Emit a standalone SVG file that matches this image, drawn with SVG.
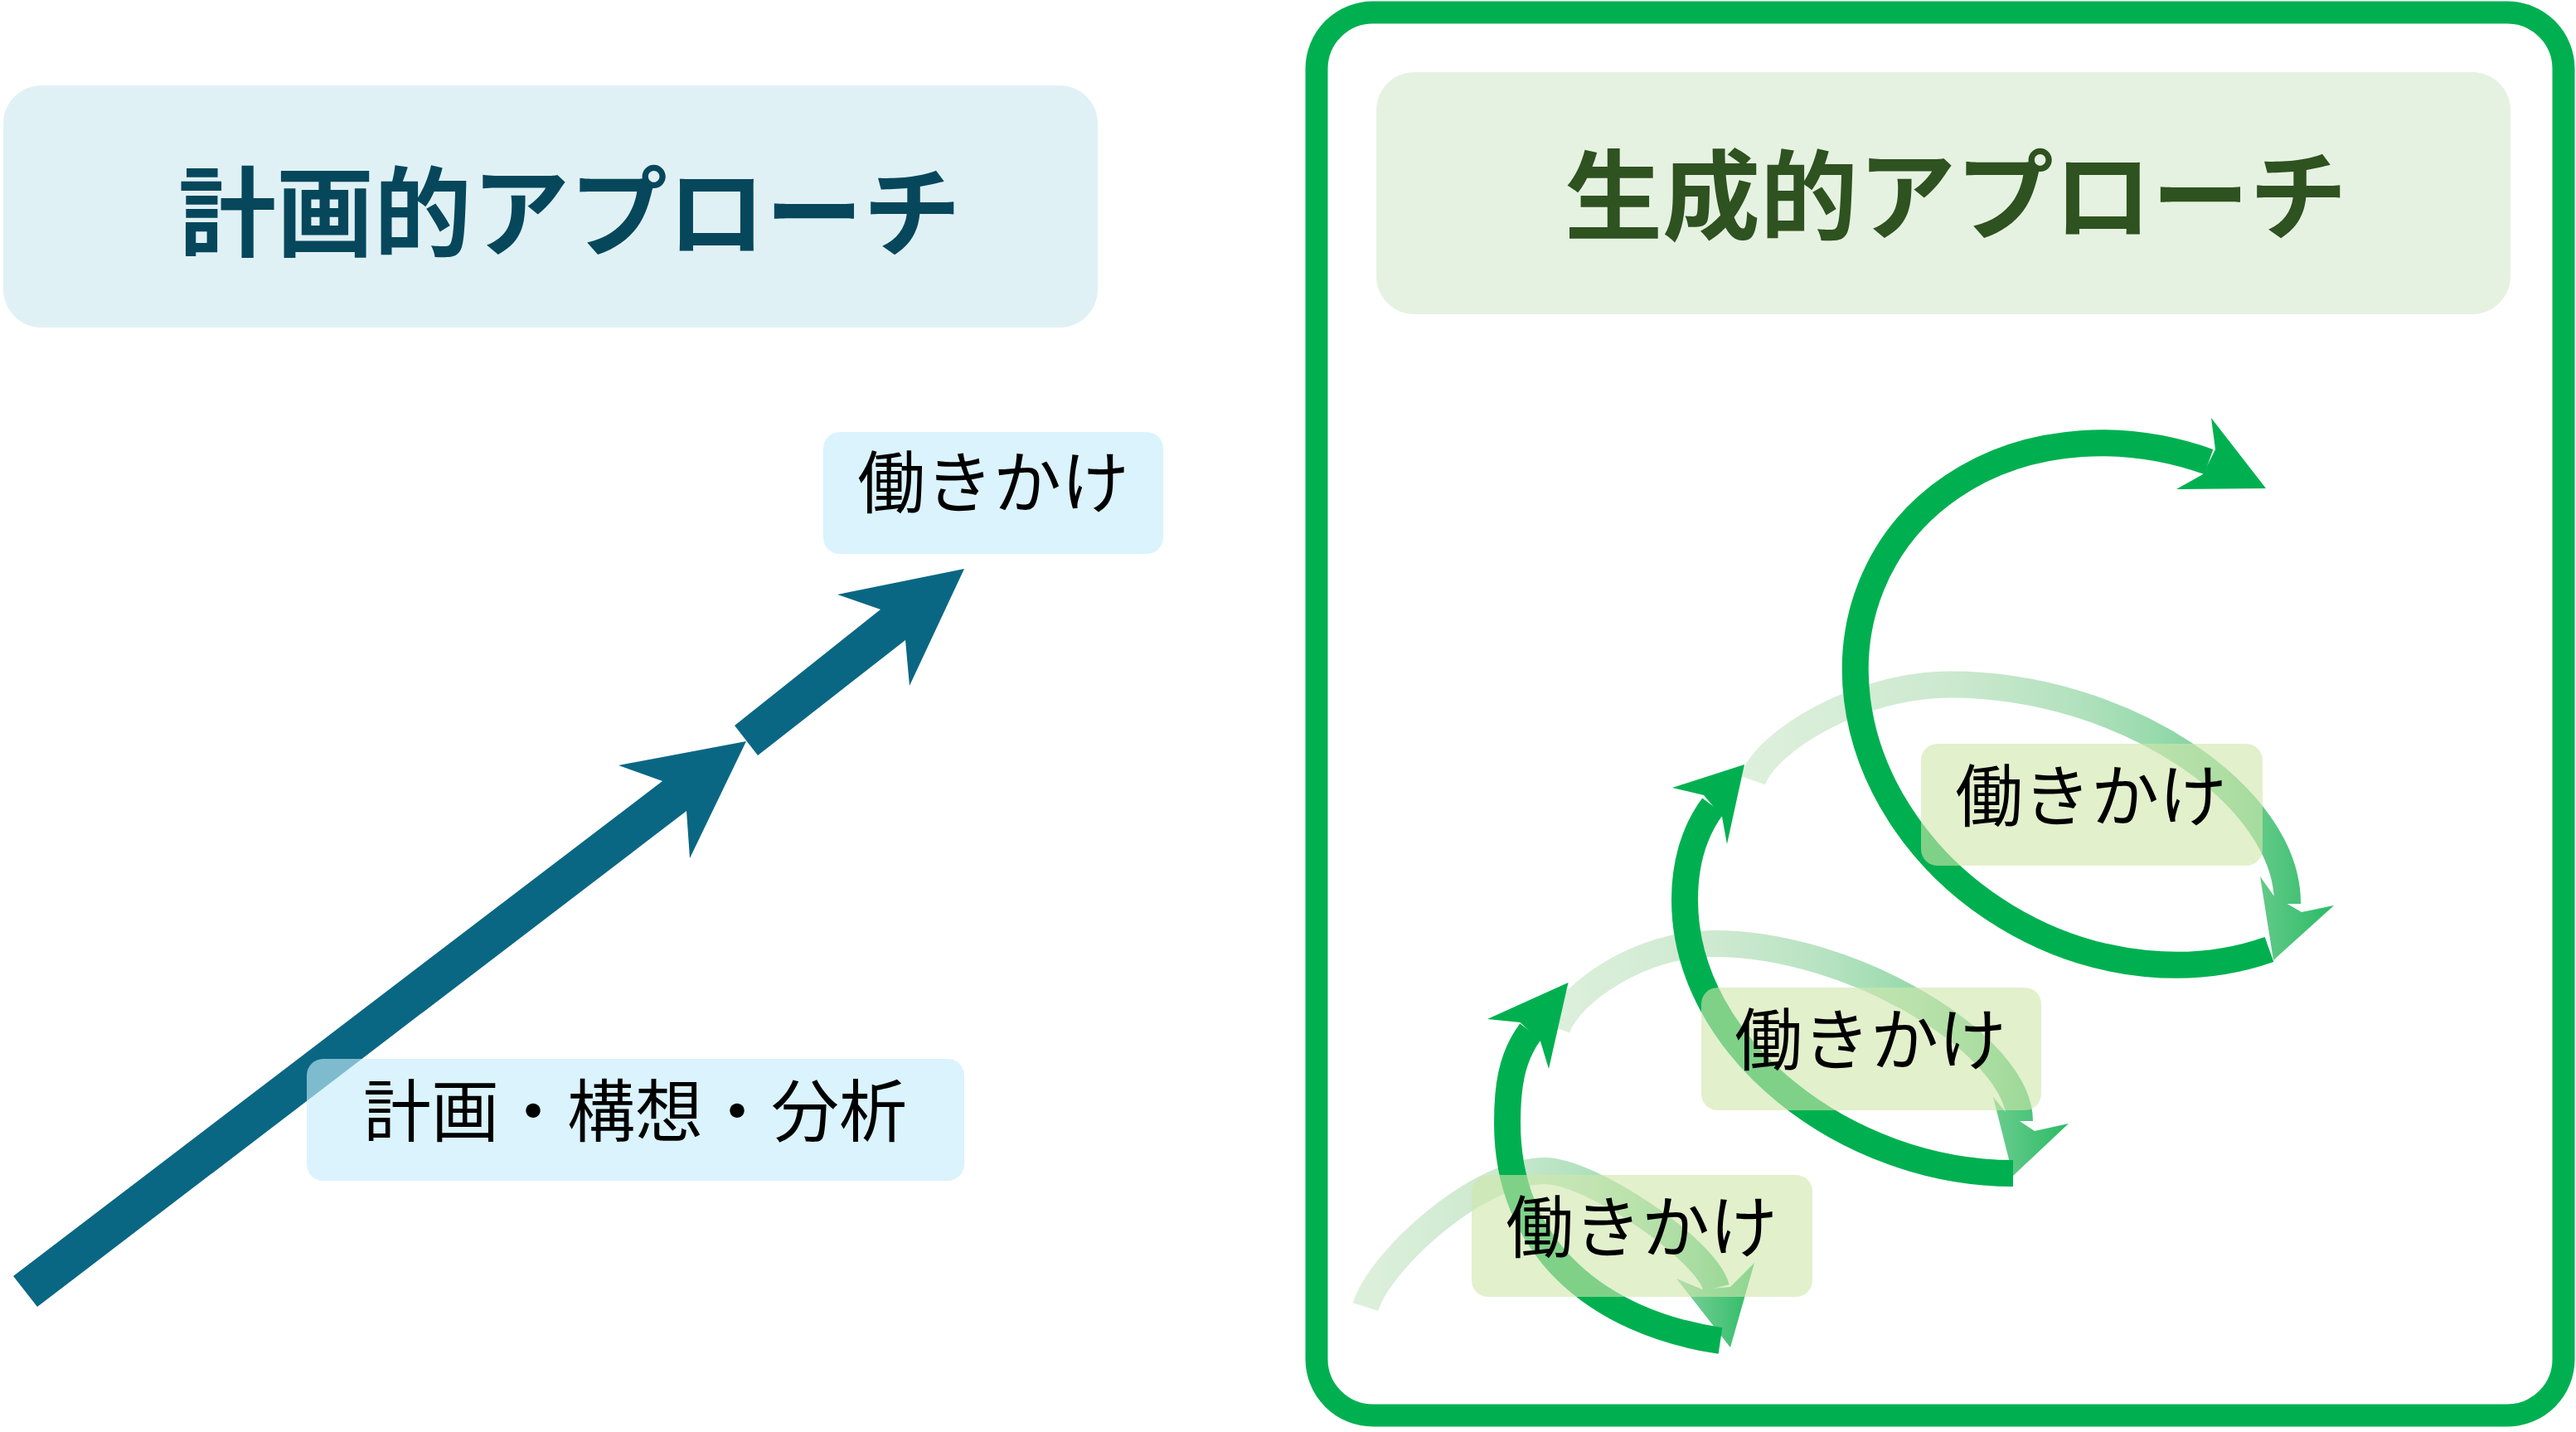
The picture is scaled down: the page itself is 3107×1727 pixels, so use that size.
<svg xmlns="http://www.w3.org/2000/svg" width="3107" height="1727" viewBox="0 0 3107 1727">
<defs>
<style>
.title{font-family:"Noto Sans CJK JP","Noto Sans CJK SC",sans-serif;font-weight:700;font-size:118px;text-anchor:middle}
.lbl{font-family:"Noto Sans CJK JP","Noto Sans CJK SC",sans-serif;font-size:82px;text-anchor:middle;fill:#000}
.blbl{fill:#C4ECFA;fill-opacity:0.63}
.glbl{fill:#CFE6AB;fill-opacity:0.61}
.solid{fill:none;stroke:#00B050;stroke-width:32}
.shead{fill:#00B050}
.plan{fill:#0A6783}
.fade{fill:none;stroke-width:32}
</style>
<linearGradient id="ga">
<stop offset="0" stop-color="#DEF0DC"/>
<stop offset="0.35" stop-color="#CCE9CF"/>
<stop offset="0.55" stop-color="#B5E2C0"/>
<stop offset="0.7" stop-color="#98DAAC"/>
<stop offset="0.85" stop-color="#6ECD90"/>
<stop offset="1" stop-color="#2BBB66"/>
</linearGradient>
<linearGradient id="g1" href="#ga" gradientUnits="userSpaceOnUse" x1="1632" y1="0" x2="2116" y2="0"/>
<linearGradient id="g2" href="#ga" gradientUnits="userSpaceOnUse" x1="1860" y1="0" x2="2495" y2="0"/>
<linearGradient id="g3" href="#ga" gradientUnits="userSpaceOnUse" x1="2100" y1="0" x2="2815" y2="0"/>
</defs>
<rect x="0" y="0" width="3107" height="1727" fill="#FFFFFF"/>

<g id="generative-frame">
<rect x="1588" y="15" width="1504" height="1692" rx="68" fill="#FFFFFF" stroke="#00B050" stroke-width="27"/>
</g>

<g id="connectors">
<g id="plan-arrows">
<polygon class="plan" points="16,1539 799,942 746,923 900,894 832,1035 828,978 45,1576"/>
<polygon class="plan" points="886,875 1062,735 1010,717 1163,686 1097,827 1092,772 914,911"/>
</g>
<g id="faded-arcs">
<path class="fade" stroke="url(#g1)" d="M1647,1576 C1665,1519 1783,1412 1863,1412 C1918,1412 2059,1507 2070,1553"/>
<polygon fill="url(#g1)" points="2022,1542 2053,1555 2087,1552 2116,1523 2087,1625"/>
<path class="fade" stroke="url(#g2)" d="M1878,1240 C1893,1198 1977,1138 2067,1138 C2237,1138 2436,1262 2436,1352"/>
<polygon fill="url(#g2)" points="2404,1323 2419,1341 2454,1364 2495,1355 2428,1418"/>
<path class="fade" stroke="url(#g3)" d="M2114,941 C2130,894 2242,825.5 2352,825.5 C2562,825.5 2760,960 2759,1090"/>
<polygon fill="url(#g3)" points="2726,1057 2743,1081 2776,1100 2815,1092 2742,1158"/>
</g>
<g id="solid-arcs">
<path class="solid" d="M2075,1617 C1925,1594.5 1818,1504 1818,1354 C1818,1314 1822,1276 1846,1244"/>
<polygon class="shead" points="1891.5,1185 1794,1229 1833.5,1233 1858,1256 1868,1289"/>
<path class="solid" d="M2428,1415 C2228,1415 2032,1265 2032,1085 C2032,1045 2042,1004 2066,972"/>
<polygon class="shead" points="2104,922 2017,950 2055,959 2077,985 2083,1018"/>
<path class="solid" d="M2737,1145 A353,302 29 1 1 2664,557"/>
<polygon class="shead" points="2733,589 2667,504 2672,542 2657,572 2625,590"/>
</g>
</g>

<g id="title-planned">
<rect x="4" y="103" width="1320" height="292" rx="46" fill="#E0F1F5"/>
<text class="title" x="687" y="300" fill="#06475C">計画的アプローチ</text>
</g>
<g id="label-plan-action">
<rect class="blbl" x="993" y="521" width="410" height="147" rx="20"/>
<text class="lbl" x="1198" y="612">働きかけ</text>
</g>
<g id="label-plan-analysis">
<rect class="blbl" x="370" y="1277" width="793" height="147" rx="20"/>
<text class="lbl" x="766" y="1370">計画・構想・分析</text>
</g>

<g id="title-generative">
<rect x="1660" y="87" width="1368" height="292" rx="46" fill="#E6F2E1"/>
<text class="title" x="2359" y="280" fill="#2E5220">生成的アプローチ</text>
</g>
<g id="label-gen-1">
<rect class="glbl" x="1775" y="1417" width="411" height="147" rx="20"/>
<text class="lbl" x="1980" y="1510">働きかけ</text>
</g>
<g id="label-gen-2">
<rect class="glbl" x="2052" y="1191" width="410" height="148" rx="20"/>
<text class="lbl" x="2256" y="1284">働きかけ</text>
</g>
<g id="label-gen-3">
<rect class="glbl" x="2317" y="897" width="412" height="147" rx="20"/>
<text class="lbl" x="2522" y="990">働きかけ</text>
</g>
</svg>
